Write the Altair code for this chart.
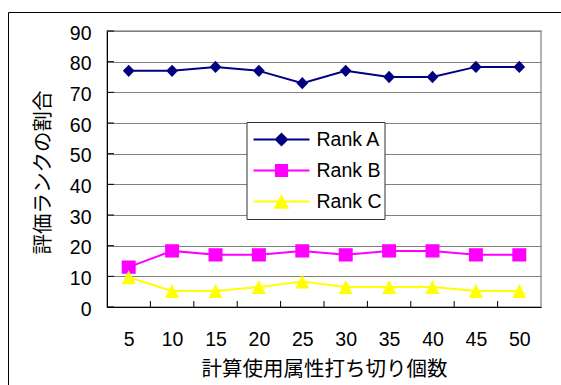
import altair as alt
import pandas as pd

# ---- data ----
cutoffs = [5, 10, 15, 20, 25, 30, 35, 40, 45, 50]
rank_a = [77, 77, 78.3, 77, 73, 77, 75, 75, 78.3, 78.3]
rank_b = [13, 18.3, 17, 17, 18.3, 17, 18.3, 18.3, 17, 17]
rank_c = [9.7, 5.2, 5.2, 6.5, 8.3, 6.5, 6.5, 6.5, 5.2, 5.2]
series_names = ["Rank A", "Rank B", "Rank C"]
y_ticks = [0, 10, 20, 30, 40, 50, 60, 70, 80, 90]

x_title = "計算使用属性打ち切り個数"
y_title = "評価ランクの割合"

# ---- styles ----
colors = ["#000080", "#FF00FF", "#FFFF00"]
point_paths = [
    "M0,-0.88L0.84,0L0,0.88L-0.84,0Z",
    "M-1,-0.95L1,-0.95L1,0.95L-1,0.95Z",
    "M0,-1L1,1L-1,1Z",
]
legend_paths = [
    "M-1,0L1,0M0,-0.2L0.2,0L0,0.2L-0.2,0Z",
    "M-1,0L1,0M-0.2,-0.2L0.2,-0.2L0.2,0.2L-0.2,0.2Z",
    "M-1,0L1,0M0,-0.19L0.22,0.22L-0.22,0.22Z",
]
LAB_FONT = "Liberation Sans"
CJK_FONT = "Noto Sans CJK JP"
W, H = 434, 276

rows = []
for name, vals in zip(series_names, [rank_a, rank_b, rank_c]):
    for c, v in zip(cutoffs, vals):
        rows.append({"cutoff": c, "series": name, "value": v})
df = pd.DataFrame(rows)

step = cutoffs[1] - cutoffs[0]
x_domain = [cutoffs[0] - step / 2, cutoffs[-1] + step / 2]
boundaries = [(a + b) / 2 for a, b in zip(cutoffs[:-1], cutoffs[1:])]

x_scale = alt.Scale(domain=x_domain, nice=False, zero=False)
y_scale = alt.Scale(domain=[0, 90], nice=False, zero=True)

x_axis = alt.Axis(
    values=cutoffs, ticks=False, grid=False, domainColor="black",
    labelFlush=False, labelOverlap=False,
    labelFont=LAB_FONT, labelFontSize=19.5, labelColor="black",
    labelPadding=32, labelBaseline="middle",
    title=x_title, titleFont=CJK_FONT, titleFontSize=20.5,
    titleFontWeight="normal", titleColor="black",
    titleY=62, titleBaseline="middle",
)
y_axis = alt.Axis(
    values=y_ticks, tickCount=len(y_ticks), ticks=False, grid=True,
    gridColor="#808080", gridOpacity=1, domainColor="black", labelOverlap=False,
    labelFont=LAB_FONT, labelFontSize=19.5, labelColor="black",
    labelPadding=16, labelOffset=2,
    title=y_title, titleFont=CJK_FONT, titleFontSize=20.5,
    titleFontWeight="normal", titleColor="black",
    titleX=-64, titleY=141, titleBaseline="middle", titleAlign="center",
    titleAngle=270,
)

x_enc = alt.X("cutoff:Q", scale=x_scale, axis=x_axis)
y_enc = alt.Y("value:Q", scale=y_scale, axis=y_axis)

color_scale = alt.Scale(domain=series_names, range=colors)
legend = alt.Legend(
    orient="none", legendX=139.5, legendY=91, title=None,
    direction="vertical", fillColor="white", strokeColor="#333333",
    padding=2, symbolOffset=4, symbolSize=3136, symbolStrokeWidth=2,
    symbolOpacity=1, clipHeight=31, rowPadding=0,
    labelFont=LAB_FONT, labelFontSize=19.5, labelColor="black",
    labelOffset=6, labelExpr="datum.label + ' '",
)

base = alt.Chart(df)

lines = base.mark_line(strokeWidth=2).encode(
    x=x_enc, y=y_enc,
    color=alt.Color("series:N", scale=color_scale, legend=None),
    detail="series:N",
)

points = base.mark_point(filled=True, size=196, opacity=1).encode(
    x=x_enc, y=y_enc,
    color=alt.Color("series:N", scale=color_scale, legend=None),
    shape=alt.Shape("series:N", scale=alt.Scale(domain=series_names, range=point_paths), legend=None),
)

# layer that carries only the legend (its marks are filtered out)
legend_layer = base.transform_filter("false").mark_point(
    filled=True, size=3136, opacity=1, strokeWidth=2
).encode(
    x=x_enc, y=y_enc,
    fill=alt.Fill("series:N", scale=color_scale, legend=legend),
    stroke=alt.Stroke("series:N", scale=color_scale, legend=legend),
    shape=alt.Shape("series:N", scale=alt.Scale(domain=series_names, range=legend_paths), legend=legend),
)

xticks = alt.Chart(pd.DataFrame({"b": boundaries})).mark_rule(color="black", strokeWidth=1).encode(
    x=alt.X("b:Q", scale=x_scale, axis=x_axis),
    y=alt.value(H), y2=alt.value(H - 6),
)

yticks = alt.Chart(pd.DataFrame({"t": y_ticks})).mark_rule(color="black", strokeWidth=1).encode(
    y=alt.Y("t:Q", scale=y_scale, axis=y_axis),
    x=alt.value(0), x2=alt.value(7),
)

# outer chart-area border (only its top and left edges fall inside the picture)
frame_top = alt.Chart(pd.DataFrame({"a": [0]})).mark_rule(color="black", strokeWidth=1).encode(
    x=alt.value(-98.5), x2=alt.value(460), y=alt.value(-18.5),
)
frame_left = alt.Chart(pd.DataFrame({"a": [0]})).mark_rule(color="black", strokeWidth=1).encode(
    x=alt.value(-98.5), y=alt.value(-18.5), y2=alt.value(360),
)

chart = alt.layer(lines, xticks, yticks, points, legend_layer, frame_top, frame_left).resolve_scale(
    shape="independent", fill="independent", stroke="independent"
).properties(
    width=W, height=H,
    padding={"left": 107, "top": 31, "right": 20, "bottom": 78},
    autosize=alt.AutoSizeParams(type="none"),
    background="white",
).configure_view(stroke="#999999", strokeWidth=1.5)

chart.save("out.html", embed_options={"renderer": "svg", "actions": False})
